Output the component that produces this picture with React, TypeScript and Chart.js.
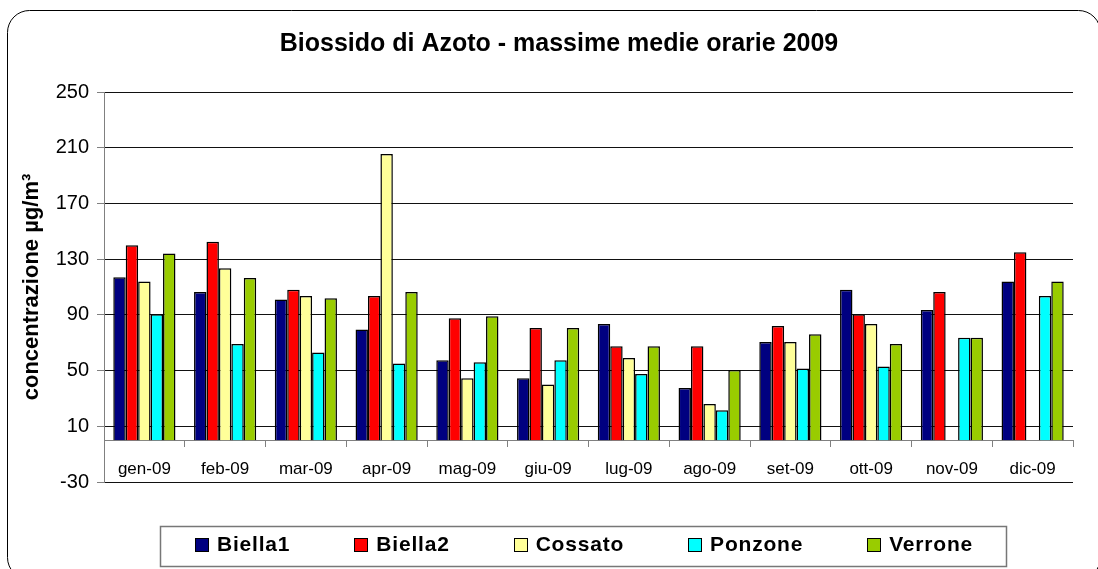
import { useEffect, useRef } from 'react';
import { Chart, registerables } from 'chart.js';

Chart.register(...registerables);

const FONT = "'Liberation Sans', Arial, Helvetica, sans-serif";

const chartTitle = 'Biossido di Azoto - massime medie orarie 2009';
const yAxisTitle = 'concentrazione µg/m³';

const months = ['gen-09', 'feb-09', 'mar-09', 'apr-09', 'mag-09', 'giu-09', 'lug-09', 'ago-09', 'set-09', 'ott-09', 'nov-09', 'dic-09'];

const biella1 = [117, 106.5, 101, 79.5, 57.5, 44.5, 83.5, 37.5, 70.5, 108, 93.5, 114];
const biella2 = [140, 142.5, 108, 103.5, 87.5, 80.5, 67.5, 67.5, 82, 90.5, 106.5, 135];
const cossato = [114, 123.5, 103.5, 205.5, 44.5, 40, 59, 26, 70.5, 83.5, null, null];
const ponzone = [90.5, 69, 63, 55, 56, 57.5, 47.5, 21.5, 51.5, 53, 73.5, 103.5];
const verrone = [134, 116.5, 102, 106.5, 89, 80.5, 67.5, 50.5, 76, 69, 73.5, 114];

const seriesNames = ['Biella1', 'Biella2', 'Cossato', 'Ponzone', 'Verrone'];
const seriesColors = ['#000080', '#FF0000', '#FFFF99', '#00FFFF', '#99CC00'];

const yMin = -30;
const yMax = 250;
const yStep = 40;

const framePlugin = {
  id: 'frameAndLegend',
  beforeDraw(chart: any) {
    const ctx = chart.ctx;
    ctx.save();
    ctx.fillStyle = '#ffffff';
    ctx.fillRect(0, 0, chart.width, chart.height);
    ctx.restore();
  },
  afterDraw(chart: any) {
    const ctx = chart.ctx;
    ctx.save();
    // outer rounded frame
    ctx.strokeStyle = '#000000';
    ctx.lineWidth = 1;
    const fx = 7.5, fy = 10.5, fw = 1093, fh = 569, r = 22;
    ctx.beginPath();
    ctx.moveTo(fx + r, fy);
    ctx.arcTo(fx + fw, fy, fx + fw, fy + fh, r);
    ctx.arcTo(fx + fw, fy + fh, fx, fy + fh, r);
    ctx.arcTo(fx, fy + fh, fx, fy, r);
    ctx.arcTo(fx, fy, fx + fw, fy, r);
    ctx.closePath();
    ctx.stroke();

    // legend box
    ctx.strokeStyle = '#777777';
    ctx.lineWidth = 1.5;
    ctx.strokeRect(160.5, 526.5, 846, 40);

    ctx.font = `bold 21px ${FONT}`;
    try { (ctx as any).letterSpacing = '0.8px'; } catch (e) { /* ignore */ }
    const box = 14;
    const gapText = 8;
    const gapItems = 64;
    const datasets = chart.data.datasets;
    const widths = datasets.map((d: any) => ctx.measureText(d.label).width);
    const total = widths.reduce((a: number, w: number) => a + box + gapText + w, 0) + gapItems * (datasets.length - 1);
    let x = 584 - total / 2;
    const cy = 545;
    ctx.textBaseline = 'middle';
    ctx.textAlign = 'left';
    datasets.forEach((d: any, i: number) => {
      ctx.fillStyle = d.backgroundColor;
      ctx.fillRect(Math.round(x), cy - 7, box, box);
      ctx.strokeStyle = '#000000';
      ctx.lineWidth = 1;
      ctx.strokeRect(Math.round(x) + 0.5, cy - 7 + 0.5, box - 1, box - 1);
      ctx.fillStyle = '#000000';
      ctx.fillText(d.label, x + box + gapText, cy);
      x += box + gapText + widths[i] + gapItems;
    });
    ctx.restore();
  },
};

export default function App() {
  const ref = useRef<HTMLCanvasElement>(null);

  useEffect(() => {
    if (!ref.current) return;
    Chart.defaults.font.family = FONT;
    const values = [biella1, biella2, cossato, ponzone, verrone];
    const chart = new Chart(ref.current, {
      type: 'bar',
      data: {
        labels: months,
        datasets: seriesNames.map((name, i) => ({
          label: name,
          data: values[i] as any,
          backgroundColor: seriesColors[i],
          borderColor: '#000000',
          borderWidth: 1.5,
          categoryPercentage: 0.77,
          barPercentage: 1,
        })),
      },
      options: {
        animation: false,
        responsive: false,
        devicePixelRatio: 1,
        layout: { padding: { left: 45, right: 25, top: 0, bottom: 87 } },
        plugins: {
          legend: { display: false },
          tooltip: { enabled: false },
          title: {
            display: true,
            text: chartTitle,
            color: '#000000',
            font: { family: FONT, size: 25, weight: 'bold' },
            padding: { top: 29, bottom: 33 },
          },
        },
        scales: {
          x: {
            position: { y: 0 } as any,
            offset: true,
            grid: {
              display: true,
              drawOnChartArea: false,
              drawTicks: true,
              tickLength: 6,
              tickColor: '#808080',
              offset: true,
            },
            border: { display: true, color: '#808080', width: 1 },
            ticks: {
              color: '#000000',
              font: { size: 17 },
              padding: 13,
              autoSkip: false,
              maxRotation: 0,
              minRotation: 0,
            },
          },
          y: {
            min: yMin,
            max: yMax,
            ticks: {
              stepSize: yStep,
              color: '#000000',
              font: { size: 20 },
              padding: 8,
            },
            grid: {
              color: '#111111',
              tickColor: '#808080',
              tickLength: 7,
            },
            border: { display: true, color: '#808080', width: 1 },
            title: {
              display: true,
              text: yAxisTitle,
              color: '#000000',
              font: { size: 22, weight: 'bold' },
              padding: { top: -26.7, bottom: 0 },
            },
            afterFit: (s: any) => {
              s.width = 59;
            },
          },
        },
      } as any,
      plugins: [framePlugin],
    });
    return () => chart.destroy();
  }, []);

  return (
    <div
      style={{
        position: 'fixed',
        left: 0,
        top: 0,
        width: 1098,
        height: 569,
        overflow: 'hidden',
        background: '#ffffff',
      }}
    >
      <canvas ref={ref} width={1098} height={569} style={{ display: 'block', width: 1098, height: 569 }} />
    </div>
  );
}
